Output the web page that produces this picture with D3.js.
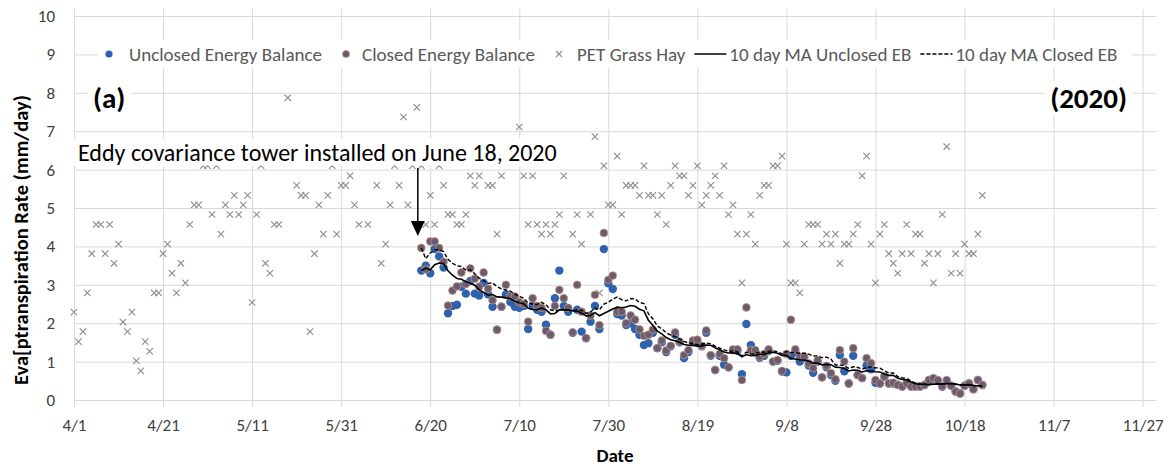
<!DOCTYPE html>
<html>
<head>
<meta charset="utf-8">
<script src="https://cdn.jsdelivr.net/npm/d3@7"></script>
<style>
  body { margin: 0; background: #fff; }
  svg text { font-family: Carlito, Calibri, Lato, "Open Sans", sans-serif; }
</style>
</head>
<body>
<div id="chart"></div>
<script>
'use strict';

// ****************** data ***************************

const year = 2020;
const xTickLabels = ["4/1", "4/21", "5/11", "5/31", "6/20", "7/10", "7/30", "8/19", "9/8", "9/28", "10/18", "11/7", "11/27"];
const xEnd = "11/30";
const yTicks = [0, 1, 2, 3, 4, 5, 6, 7, 8, 9, 10];

// PET grass hay (mm/day), one value per day starting 4/1, null = no point
const petStart = "4/1";
const petValues = [
  2.29, 1.52, 1.78, 2.79, 3.81, 4.57, 4.57, 3.81, 4.57, 3.56,
  4.06, 2.03, 1.78, 2.29, 1.02, 0.76, 1.52, 1.27, 2.79, 2.79,
  3.81, 4.06, 3.30, 2.79, 3.56, 3.05, 4.57, 5.08, 5.08, 6.10,
  6.10, 4.83, 6.10, 4.32, 5.08, 4.83, 5.33, 4.83, 5.08, 5.33,
  2.54, 4.83, 6.10, 3.56, 3.30, 4.57, 4.57, null, 7.87, null,
  5.59, 5.33, 5.33, 1.78, 3.81, 5.08, 4.32, 5.33, 6.10, 4.32,
  5.59, 5.59, 5.84, 5.08, 4.57, null, 4.57, null, 5.59, 3.56,
  4.06, 5.08, 6.10, 5.59, 7.37, 5.08, 6.10, 7.62, 6.10, 4.57,
  5.33, 4.57, 6.10, 5.59, 4.83, 4.83, 4.57, 4.57, 4.83, 5.84,
  5.59, 5.84, null, 5.59, 5.59, 4.32, 5.84, null, null, null,
  7.11, 5.84, 4.57, 5.84, 4.57, 4.32, 4.57, 4.32, 4.57, 4.83,
  5.84, null, 4.32, 4.83, 4.06, null, 4.83, 6.86, 2.79, 6.10,
  5.08, 5.08, 6.35, 4.83, 5.59, 5.59, 5.59, 5.33, 6.10, 5.33,
  5.33, 4.83, 5.33, 4.57, 5.59, 6.10, 5.84, 5.84, 5.33, 5.59,
  6.10, 5.08, 5.33, 5.59, 5.84, 5.33, 6.10, 4.83, 5.08, 4.32,
  3.05, 4.32, 4.83, 4.06, 5.33, 5.59, 5.59, 6.10, 6.10, 6.35,
  4.06, 3.05, 3.05, 2.79, 4.06, 4.57, 4.57, 4.57, 4.06, 4.32,
  4.06, 4.32, 3.56, 4.06, 4.06, 4.32, 4.57, 5.84, 6.35, 4.06,
  3.05, 4.32, 4.57, 3.81, 3.56, 3.30, 3.81, 4.57, 3.81, 4.32,
  4.32, 3.56, 3.81, 3.05, 3.81, 4.83, 6.60, 3.30, 3.81, 3.30,
  4.06, 3.81, 3.81, 4.32, 5.33
];

// eddy covariance ET (mm/day), one value per day starting 6/18
const etStart = "6/18";
const unclosedValues = [
  3.37, 3.50, 3.30, 3.93, 3.74, 3.45, 2.26, 2.45, 2.48, 2.95,
  2.77, 3.10, 2.77, 2.72, 3.05, 2.75, 2.43, 1.83, 2.43, 2.75,
  2.55, 2.43, 2.40, 2.45, 1.85, 2.45, 2.35, 2.30, 1.96, 1.70,
  2.65, 3.37, 2.45, 2.30, 1.75, 2.35, 1.78, 1.61, 2.04, 2.45,
  1.85, 3.93, 3.04, 2.89, 2.24, 2.20, 1.95, 2.00, 1.85, 1.70,
  1.43, 1.48, 1.75, 1.35, 1.50, 1.25, 1.40, 1.70, 1.50, 1.09,
  1.25, 1.50, 1.50, 1.40, 1.75, 1.15, 0.78, 1.15, 0.92, 0.85,
  1.30, 1.28, 0.67, 1.98, 1.43, 1.25, 1.10, 1.15, 1.28, 1.00,
  1.02, 0.74, 0.72, 1.15, 1.25, 1.00, 1.10, 0.90, 0.71, 1.00,
  0.59, 0.85, 0.65, 0.50, 1.17, 0.75, 0.43, 1.15, 0.65, 0.57,
  0.90, 0.80, 0.45, 0.43, 0.61, 0.43, 0.43, 0.40, 0.35, 0.43,
  0.35, 0.35, 0.35, 0.39, 0.52, 0.55, 0.50, 0.35, 0.50, 0.37,
  0.22, 0.17, 0.37, 0.43, 0.28, 0.52, 0.39
];
const closedValues = [
  3.96, 3.40, 4.13, 4.13, 3.96, 3.60, 2.46, 2.85, 2.96, 3.32,
  3.02, 3.43, 3.16, 2.95, 3.32, 2.90, 2.60, 1.83, 2.43, 3.00,
  2.70, 2.70, 2.55, 2.50, 2.04, 2.65, 2.45, 2.40, 1.80, 1.70,
  2.45, 2.87, 2.65, 2.40, 1.76, 3.00, 2.30, 1.61, 2.20, 2.74,
  1.95, 4.35, 3.13, 3.24, 2.30, 2.30, 2.00, 2.20, 2.09, 1.84,
  1.67, 1.70, 1.83, 1.35, 1.55, 1.29, 1.41, 1.76, 1.52, 1.17,
  1.30, 1.55, 1.57, 1.41, 1.81, 1.17, 0.78, 1.20, 1.09, 0.85,
  1.32, 1.32, 0.52, 2.41, 1.30, 1.30, 1.13, 1.20, 1.32, 1.00,
  1.04, 0.76, 1.20, 2.09, 1.32, 1.13, 1.13, 0.95, 0.83, 1.03,
  0.59, 0.89, 0.70, 0.54, 1.30, 1.00, 0.43, 1.35, 0.65, 0.57,
  1.09, 0.96, 0.52, 0.43, 0.61, 0.43, 0.45, 0.39, 0.35, 0.43,
  0.35, 0.35, 0.35, 0.39, 0.52, 0.57, 0.52, 0.35, 0.52, 0.37,
  0.22, 0.17, 0.37, 0.43, 0.28, 0.52, 0.39
];

const maWindow = 10;
const legendLabels = ["Unclosed Energy Balance", "Closed Energy Balance", "PET Grass Hay", "10 day MA Unclosed EB", "10 day MA Closed EB"];
const annotationText = "Eddy covariance tower installed on June 18, 2020";
const annotationDate = "6/18";

// ****************** helpers ***************************

const parseDate = s => d3.timeParse("%m/%d/%Y")(s + "/" + year);

function daily(start, values) {
  const t0 = parseDate(start);
  return values.map((v, i) => ({date: d3.timeDay.offset(t0, i), value: v}))
    .filter(d => d.value != null);
}

// trailing moving average (shorter window at the start of the record)
function movingAvg(rows, n) {
  return rows.map((d, i) => ({
    date: d.date,
    value: d3.mean(rows.slice(Math.max(0, i - n + 1), i + 1), r => r.value)
  }));
}

const pet = daily(petStart, petValues);
const unclosed = daily(etStart, unclosedValues);
const closed = daily(etStart, closedValues);
const maUnclosed = movingAvg(unclosed, maWindow);
const maClosed = movingAvg(closed, maWindow);

// ****************** layout ***************************

const W = 1175, H = 466;
const margin = {top: 16, right: 19, bottom: 66, left: 74};
const width = W - margin.left - margin.right,
      height = H - margin.top - margin.bottom;

const svg = d3.select("#chart").append("svg")
  .attr("width", W)
  .attr("height", H);

const g = svg.append("g")
  .attr("transform", "translate(" + margin.left + "," + margin.top + ")");

const xTicks = xTickLabels.map(parseDate);
const x = d3.scaleTime()
  .domain([xTicks[0], parseDate(xEnd)])
  .range([0, width]);

const y = d3.scaleLinear()
  .domain([0, 10])
  .range([height, 0]);

const gridColor = "#d9d9d9";
const tickColor = "#404040";

// horizontal gridlines + y labels
const yAxis = g.append("g")
  .call(d3.axisLeft(y).tickValues(yTicks).tickSize(-width).tickFormat(d3.format("d")));
yAxis.select(".domain").remove();
yAxis.selectAll(".tick line").attr("stroke", gridColor);
yAxis.selectAll(".tick text")
  .attr("x", -19)
  .attr("fill", tickColor)
  .style("font-size", "17px");

// vertical gridlines + date labels
const xAxis = g.append("g")
  .attr("transform", "translate(0," + height + ")")
  .call(d3.axisBottom(x).tickValues(xTicks).tickSize(-height - 7).tickFormat(d3.timeFormat("%-m/%-d")));
xAxis.select(".domain").remove();
xAxis.selectAll(".tick line").attr("stroke", gridColor).attr("y1", 7);
xAxis.selectAll(".tick text")
  .attr("y", 19)
  .attr("fill", tickColor)
  .style("font-size", "17px");

// axis titles
svg.append("text")
  .attr("transform", "translate(21,240) rotate(-90)")
  .attr("text-anchor", "middle")
  .attr("dominant-baseline", "central")
  .style("font-size", "20.5px")
  .style("font-weight", "bold")
  .attr("fill", "#000")
  .text("Eva[ptranspiration Rate (mm/day)");

svg.append("text")
  .attr("x", margin.left + width / 2)
  .attr("y", 455)
  .attr("text-anchor", "middle")
  .attr("dominant-baseline", "central")
  .style("font-size", "19px")
  .style("font-weight", "bold")
  .attr("fill", "#000")
  .text("Date");

// ****************** marks ***************************

const petColor = "#8c8c8c";
const blue = "#2f62ae";
const purple = "#6b5b72";
const purpleEdge = "#c99f78";
const xSize = 3.2;

function cross(sel, s) {
  sel.append("path")
    .attr("d", "M" + (-s) + "," + (-s) + "L" + s + "," + s + "M" + (-s) + "," + s + "L" + s + "," + (-s))
    .attr("stroke", petColor)
    .attr("stroke-width", 1.1)
    .attr("fill", "none");
}

g.append("g").selectAll("g")
  .data(pet)
  .enter().append("g")
  .attr("transform", d => "translate(" + x(d.date) + "," + y(d.value) + ")")
  .call(cross, xSize);

g.append("g").selectAll("circle")
  .data(unclosed)
  .enter().append("circle")
  .attr("cx", d => x(d.date))
  .attr("cy", d => y(d.value))
  .attr("r", 4.2)
  .attr("fill", blue);

g.append("g").selectAll("circle")
  .data(closed)
  .enter().append("circle")
  .attr("cx", d => x(d.date))
  .attr("cy", d => y(d.value))
  .attr("r", 3.9)
  .attr("fill", purple)
  .attr("stroke", purpleEdge)
  .attr("stroke-width", 0.7);

const line = d3.line()
  .x(d => x(d.date))
  .y(d => y(d.value));

g.append("path")
  .datum(maUnclosed)
  .attr("d", line)
  .attr("fill", "none")
  .attr("stroke", "#000")
  .attr("stroke-width", 1.6);

g.append("path")
  .datum(maClosed)
  .attr("d", line)
  .attr("fill", "none")
  .attr("stroke", "#000")
  .attr("stroke-width", 1.4)
  .attr("stroke-dasharray", "4,2");

// ****************** legend ***************************

const legend = svg.append("g");
legend.append("rect")
  .attr("x", 98).attr("y", 40)
  .attr("width", 1034).attr("height", 28)
  .attr("fill", "#fff");

const legendY = 54;
let lx = 109;
legendLabels.forEach(function(label, i) {
  const item = legend.append("g");
  let textX;
  if (i === 0 || i === 1) {
    item.append("circle")
      .attr("cx", lx).attr("cy", legendY).attr("r", 3.6)
      .attr("fill", i === 0 ? blue : purple)
      .attr("stroke", i === 0 ? "none" : purpleEdge)
      .attr("stroke-width", 0.7);
    textX = lx + (i === 0 ? 20 : 16);
  } else if (i === 2) {
    item.append("g").attr("transform", "translate(" + lx + "," + legendY + ")").call(cross, 3);
    textX = lx + 18;
  } else {
    item.append("line")
      .attr("x1", lx - 6).attr("x2", lx + 26)
      .attr("y1", legendY).attr("y2", legendY)
      .attr("stroke", "#000")
      .attr("stroke-width", i === 3 ? 1.6 : 1.4)
      .attr("stroke-dasharray", i === 3 ? null : "4,2");
    textX = lx + 29;
  }
  const t = item.append("text")
    .attr("x", textX).attr("y", legendY)
    .attr("dominant-baseline", "central")
    .attr("fill", "#595959")
    .style("font-size", "19px")
    .text(label);
  lx = textX + t.node().getComputedTextLength() + (i < 2 ? 24 : 15);
});

// ****************** labels ***************************

function boxedLabel(text, px, py, anchor, size, weight) {
  const grp = svg.append("g");
  const rect = grp.append("rect").attr("fill", "#fff");
  const t = grp.append("text")
    .attr("x", px).attr("y", py)
    .attr("text-anchor", anchor)
    .attr("dominant-baseline", "central")
    .style("font-size", size + "px")
    .style("font-weight", weight)
    .attr("fill", "#000")
    .text(text);
  const b = t.node().getBBox();
  rect.attr("x", b.x - 6).attr("y", b.y + 1)
    .attr("width", b.width + 12).attr("height", b.height - 2);
}

boxedLabel("(a)", 93, 98, "start", 29, "bold");
boxedLabel("(" + year + ")", 1127, 98, "end", 29, "bold");
boxedLabel(annotationText, 78, 152, "start", 24, "normal");

// arrow to the tower installation date
const ax = margin.left + x(parseDate(annotationDate)) - 3.5;
svg.append("line")
  .attr("x1", ax).attr("x2", ax)
  .attr("y1", 168).attr("y2", 223)
  .attr("stroke", "#000")
  .attr("stroke-width", 1.5);
svg.append("path")
  .attr("d", "M" + (ax - 7) + ",221L" + (ax + 7) + ",221L" + ax + ",236Z")
  .attr("fill", "#000");
</script>
</body>
</html>
